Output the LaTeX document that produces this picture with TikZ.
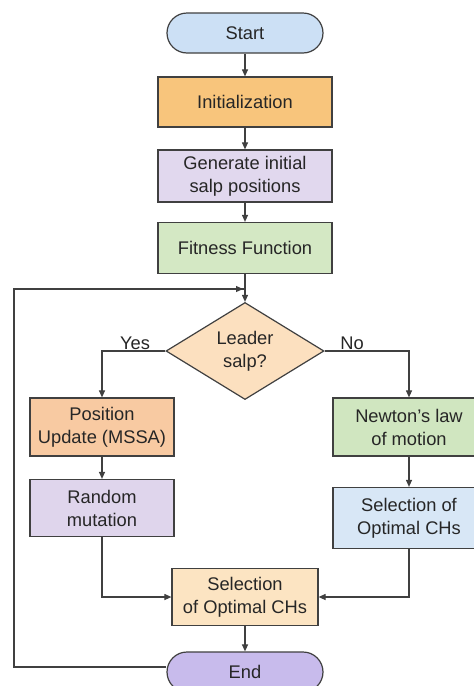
\documentclass[tikz,border=0pt]{standalone}
\usepackage{fontspec}
\setmainfont{Liberation Sans}
\usetikzlibrary{shapes.geometric,arrows.meta}
\definecolor{cstart}{HTML}{CCE0F5}
\definecolor{cinit}{HTML}{F8C57C}
\definecolor{cgen}{HTML}{E1D8EE}
\definecolor{cfit}{HTML}{D4E8C4}
\definecolor{cdia}{HTML}{FCE0BF}
\definecolor{cpos}{HTML}{F8CAA2}
\definecolor{crand}{HTML}{DFD5EC}
\definecolor{cnew}{HTML}{D0E6C0}
\definecolor{csel}{HTML}{D8E7F6}
\definecolor{cbot}{HTML}{FCE4C2}
\definecolor{cend}{HTML}{C8BBEC}
\definecolor{cline}{HTML}{404040}
\begin{document}
\begin{tikzpicture}[x=1pt,y=-1pt,
  every node/.style={font=\fontsize{18.3}{23}\selectfont, text=black!85, align=center},
  boxst/.style={draw=cline, line width=1.2pt, rectangle, minimum width=#1, inner sep=0pt},
  term/.style={draw=cline, line width=1.2pt, rounded rectangle, minimum width=156pt, minimum height=40pt, inner sep=0pt},
  conn/.style={draw=cline, line width=1.1pt, -{Triangle[length=7pt,width=6pt]}},
  plain/.style={draw=cline, line width=1.1pt}]
\useasboundingbox (0,0) rectangle (474,686);
\fill[white] (0,0) rectangle (474,686);
\begin{scope}
\clip (0,0) rectangle (474,686);
\node[draw=cline, line width=1.2pt, fill=cstart, rounded corners=20pt, minimum width=156pt, minimum height=40pt, inner sep=0pt] (start) at (245,33) {Start};
\node[boxst=174pt, minimum height=50pt, fill=cinit] (init) at (245,102) {Initialization};
\node[boxst=174pt, minimum height=52pt, fill=cgen] (gen) at (245,176) {Generate initial\\salp positions};
\node[boxst=174pt, minimum height=51pt, fill=cfit] (fit) at (245,248) {Fitness Function};
\node[draw=cline, line width=1.2pt, fill=cdia, diamond, minimum width=158pt, minimum height=93pt, inner sep=0pt] (dia) at (245,351) {Leader\\salp?};
\node[boxst=144pt, minimum height=58pt, fill=cpos] (pos) at (102,427) {Position\\Update (MSSA)};
\node[boxst=144pt, minimum height=57pt, fill=crand] (rand) at (102,508) {Random\\mutation};
\node[boxst=152pt, minimum height=58pt, fill=cnew] (newt) at (409,427) {Newton's law\\of motion};
\node[boxst=152pt, minimum height=61pt, fill=csel] (selr) at (409,518) {Selection of\\Optimal CHs};
\node[boxst=146pt, minimum height=57pt, fill=cbot] (selb) at (245,597) {Selection\\of Optimal CHs};
\node[draw=cline, line width=1.2pt, fill=cend, rounded corners=20pt, minimum width=156pt, minimum height=40pt, inner sep=0pt] (endn) at (245,672) {End};
\node[inner sep=0pt] (yes) at (135,343) {Yes};
\node[inner sep=0pt] (no) at (352,343) {No};
\coordinate (c1) at (14,667);
\coordinate (c2) at (14,289);
\coordinate (c3) at (245,289);
\path[conn] (start) -- (init);
\path[conn] (init) -- (gen);
\path[conn] (gen) -- (fit);
\path[conn] (fit) -- (dia);
\path[plain] (endn.west |- c1) -- (c1) -- (c2) -- ([xshift=-1pt]c3);
\path[conn] (c2) -- ([xshift=-2pt]c3);
\path[conn] (dia.west) -| (pos.north);
\path[conn] (dia.east) -| (newt.north);
\path[conn] (pos) -- (rand);
\path[conn] (newt) -- (selr);
\path[conn] (rand.south) |- (selb.west);
\path[conn] (selr.south) |- (selb.east);
\path[conn] (selb) -- (endn);
\end{scope}
\end{tikzpicture}
\end{document}
